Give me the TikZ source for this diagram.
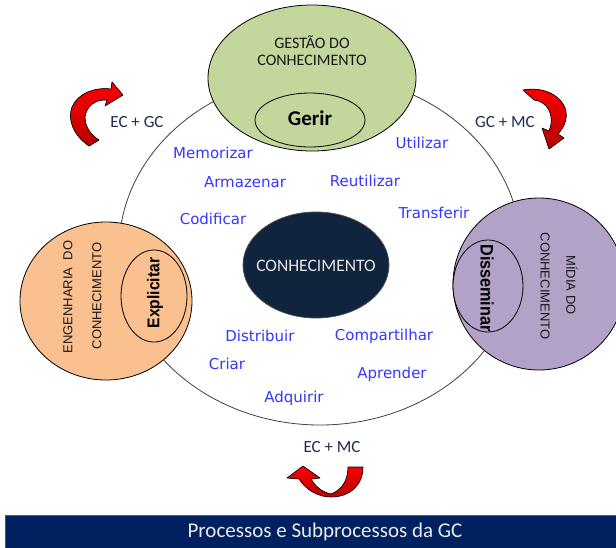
\documentclass[tikz,border=0pt]{standalone}
\usepackage{fontspec}
\setmainfont{Carlito}
\newfontfamily\arialfont{Liberation Sans}
\newfontfamily\verbfont{DejaVu Sans}
\usetikzlibrary{shapes.geometric}
\definecolor{gcgreen}{HTML}{C3D69B}
\definecolor{ecorange}{HTML}{FAC090}
\definecolor{mcviolet}{HTML}{B3A2C7}
\definecolor{corenavy}{HTML}{10243E}
\definecolor{bannernavy}{HTML}{002060}
\definecolor{verbblue}{HTML}{3636FF}
\definecolor{tagink}{HTML}{1F2D4D}
\definecolor{ringline}{HTML}{404040}
\begin{document}
\begin{tikzpicture}[x=1pt,y=-1pt,
  blob/.style={ellipse, draw=black, line width=0.8pt, inner sep=0pt},
  verb/.style={text=verbblue, inner sep=0pt, font=\verbfont\fontsize{15}{18}\selectfont},
  tag/.style={text=tagink, inner sep=0pt, font=\fontsize{17}{20}\selectfont},
  areatext/.style={text=black!90, inner sep=0pt, font=\arialfont\fontsize{13}{15}\selectfont},
  redarrow/.style={draw=black, line width=0.6pt, top color=red, bottom color=red!72!black, line join=round}
]
\useasboundingbox (0,0) rectangle (616,547);
\clip (0,0) rectangle (616,547);
\fill[white] (0,0) rectangle (616,547);

% outer cycle
\node[blob, draw=ringline, fill=white, minimum width=402pt, minimum height=350pt] (ring) at (320,250) {};

% knowledge management
\node[blob, fill=gcgreen, minimum width=208pt, minimum height=146pt] (gc) at (312,78) {};
\node[blob, fill=gcgreen, minimum width=110pt, minimum height=54pt] (gerir) at (310,120) {};
\node[inner sep=0pt, font=\fontsize{21}{24}\selectfont\bfseries] (gerirtext) at (310,118) {Gerir};
\node[areatext, font=\fontsize{16}{18}\selectfont] (gctext1) at (312,42) {GESTÃO DO};
\node[areatext, font=\fontsize{16}{18}\selectfont] (gctext2) at (312,60) {CONHECIMENTO};

% knowledge engineering
\node[blob, fill=ecorange, minimum width=172pt, minimum height=158pt] (ec) at (106,301) {};
\node[blob, fill=ecorange, minimum width=66pt, minimum height=92pt] (explicitar) at (154,296) {};
\node[inner sep=0pt, rotate=90, font=\arialfont\fontsize{17}{20}\selectfont\bfseries] (explicitartext) at (155,293) {\scalebox{0.92}[1]{Explicitar}};
\node[areatext, rotate=90] (ectext1) at (68,297) {ENGENHARIA\ \ DO};
\node[areatext, rotate=90] (ectext2) at (97,296) {CONHECIMENTO};

% knowledge media
\node[blob, fill=mcviolet, minimum width=172pt, minimum height=172pt] (mc) at (539,284) {};
\node[blob, fill=mcviolet, minimum width=70pt, minimum height=92pt] (disseminar) at (488,286) {};
\node[inner sep=0pt, rotate=-90, font=\arialfont\fontsize{18}{20}\selectfont\bfseries] (disseminartext) at (487,288) {\scalebox{0.9}[1]{Disseminar}};
\node[areatext, rotate=-90] (mctext1) at (572,285) {MÍDIA DO};
\node[areatext, rotate=-90] (mctext2) at (545,286) {CONHECIMENTO};

% knowledge core
\node[blob, draw=black!70, fill=corenavy, minimum width=146pt, minimum height=106pt] (kn) at (316,265) {};
\node[inner sep=0pt, text=black!10, font=\fontsize{17.5}{20}\selectfont] (kntext) at (316,266) {CONHECIMENTO};

% subprocesses
\node[verb] (memorizar) at (213,153) {Memorizar};
\node[verb] (armazenar) at (245,182) {Armazenar};
\node[verb] (codificar) at (213,219) {Codificar};
\node[verb] (utilizar) at (422,143) {Utilizar};
\node[verb] (reutilizar) at (365,181) {Reutilizar};
\node[verb] (transferir) at (434,213) {Transferir};
\node[verb] (distribuir) at (260,336) {Distribuir};
\node[verb] (compartilhar) at (384,336) {Compartilhar};
\node[verb] (criar) at (227,364) {Criar};
\node[verb] (aprender) at (392,374) {Aprender};
\node[verb] (adquirir) at (294,398) {Adquirir};

% transitions
\node[tag] (ecgc) at (137,122) {EC + GC};
\node[tag] (gcmc) at (505,122) {GC + MC};
\node[tag] (ecmc) at (332,447) {EC + MC};

\filldraw[redarrow] (89,146) .. controls (74,136) and (67,120) .. (72,107)
  .. controls (78,93) and (95,87) .. (111,89) -- (112,82) -- (123,95) -- (105,106) -- (107,100)
  .. controls (95,99) and (86,107) .. (85,117) .. controls (85,127) and (91,135) .. (99,140) -- cycle;
\filldraw[redarrow] (523,90) .. controls (555,84) and (580,110) .. (558,134) -- (564,138) -- (549,149)
  -- (542,128) -- (549,131) .. controls (556,114) and (546,101) .. (534,100) -- cycle;
\filldraw[redarrow] (363,467) .. controls (363,485) and (350,497) .. (331,497)
  .. controls (318,497) and (306,490) .. (299,479) -- (287,478) -- (303,466) -- (320,478) -- (311,479)
  .. controls (316,487) and (322,492) .. (331,494) .. controls (342,490) and (348,480) .. (348,467) -- cycle;

% caption bar
\node[draw=black!65, line width=1pt, fill=bannernavy, minimum width=620pt, minimum height=34pt,
      inner sep=0pt, anchor=north west] (banner) at (5,515) {};
\node[text=black!8, inner sep=0pt, font=\fontsize{21}{24}\selectfont] (bannertext) at (325,532) {Processos e Subprocessos da GC};
\end{tikzpicture}
\end{document}
